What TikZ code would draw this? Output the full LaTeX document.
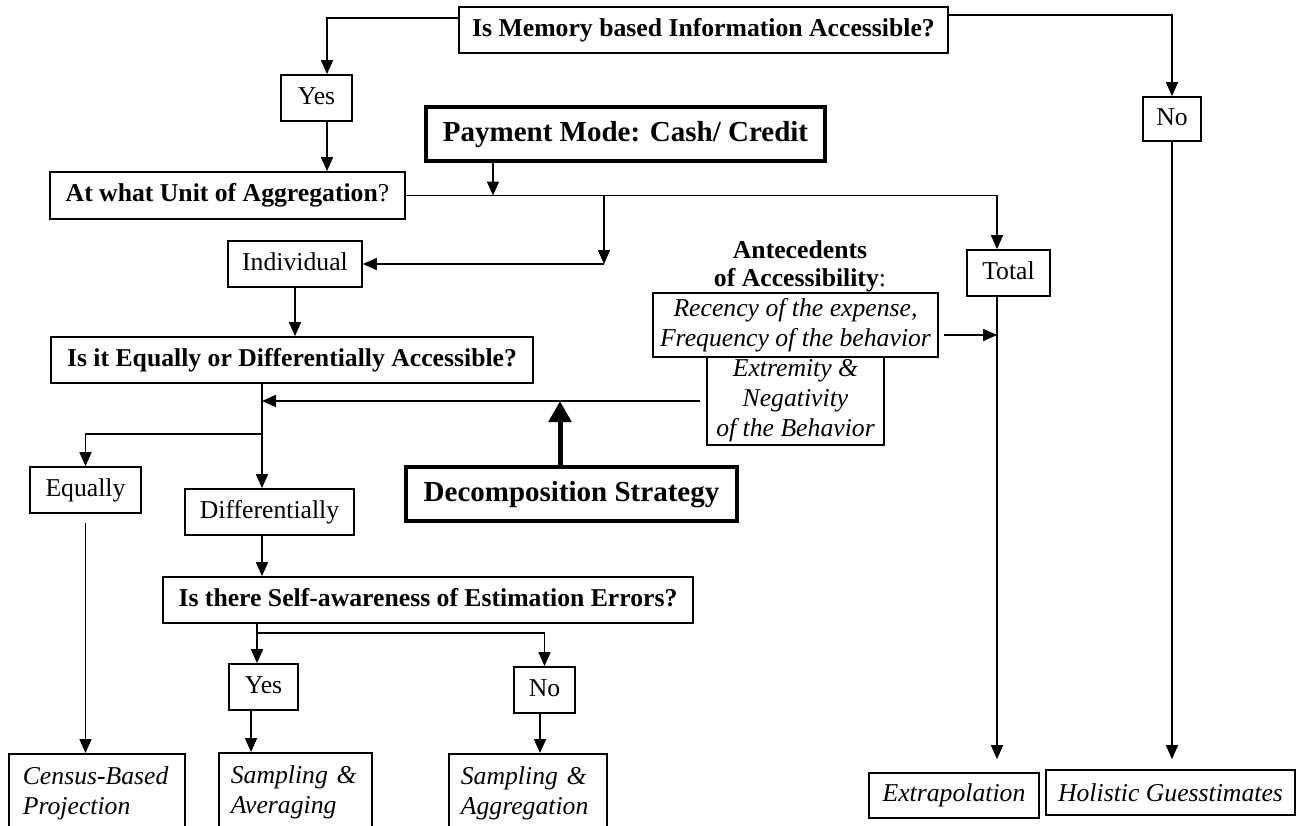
\documentclass[tikz,border=0pt]{standalone}
\usepackage{fontspec}
\setmainfont{Liberation Serif}
\usetikzlibrary{arrows.meta,calc}
\begin{document}
\begin{tikzpicture}[x=1pt,y=-1pt,
  box/.style={draw, line width=1.7pt, inner sep=0pt, text height=17pt, text depth=5pt, font=\fontsize{25.7}{30}\selectfont},
  qbox/.style={box, font=\fontsize{25.7}{30}\selectfont\bfseries},
  tbox/.style={draw, line width=4pt, inner sep=0pt, text height=20pt, text depth=6pt, font=\fontsize{29}{34}\selectfont\bfseries},
  ibox/.style={draw, line width=1.7pt, inner sep=0pt, align=center, font=\fontsize{25.7}{30}\selectfont\itshape},
  lbox/.style={draw, line width=1.7pt, inner xsep=12pt, inner ysep=0pt, align=left, anchor=north west, minimum height=78pt, font=\fontsize{25.7}{30}\selectfont\itshape},
  lbl/.style={inner sep=0pt, align=center, font=\fontsize{25.7}{28}\selectfont\bfseries},
  arr/.style={line width=1.6pt, -{Triangle[length=14pt,width=12pt]}},
  thickarr/.style={line width=5pt, -{Triangle[length=21pt,width=22pt]}}
]
\useasboundingbox (0,0) rectangle (1306,825);
\fill[white] (0,0) rectangle (1306,825);
\clip (0,0) rectangle (1306,825);

% nodes
\node[qbox, minimum width=489, minimum height=46] (top) at (703.5,30) {Is Memory based Information Accessible?};
\node[box, minimum width=71, minimum height=46] (yes1) at (316.5,98) {Yes};
\node[box, minimum width=58, minimum height=44] (no1) at (1172,119) {No};
\node[tbox, minimum width=399, minimum height=54] (pay) at (625.5,134) {Payment Mode: Cash/ Credit};
\node[qbox, minimum width=355, minimum height=47] (unit) at (227.5,195.5) {At what Unit of Aggregation{\mdseries ?}};
\node[box, minimum width=134, minimum height=46] (ind) at (295,264) {Individual};
\node[box, minimum width=83, minimum height=46] (tot) at (1008.5,273) {Total};
\node[lbl] (ante) at (800,266) {Antecedents\\of Accessibility{\mdseries :}};
\node[ibox, minimum width=285, minimum height=64] (rec) at (795.5,325) {Recency of the expense,\\Frequency of the behavior};
\node[ibox, minimum width=177, minimum height=88] (ext) at (795.5,401) {Extremity \&\\Negativity\\of the Behavior};
\node[qbox, minimum width=482, minimum height=46] (eq) at (292,360) {Is it Equally or Differentially Accessible?};
\node[box, minimum width=111, minimum height=46] (equal) at (85.5,490) {Equally};
\node[box, minimum width=169, minimum height=46] (diff) at (269.5,512) {Differentially};
\node[tbox, minimum width=331, minimum height=54] (dec) at (571.5,494) {Decomposition Strategy};
\node[qbox, minimum width=530, minimum height=46] (self) at (428,600) {Is there Self-awareness of Estimation Errors?};
\node[box, minimum width=69, minimum height=46] (yes2) at (263.5,687) {Yes};
\node[box, minimum width=61, minimum height=46] (no2) at (544.5,690) {No};
\node[lbox, inner xsep=14pt, text width=148pt] (cen) at (8,753) {Census-Based\\Projection};
\node[lbox, text width=129pt] (savg) at (218,752) {Sampling \&\\Averaging};
\node[lbox, text width=134pt] (sagg) at (448,753) {Sampling \&\\Aggregation};
\node[ibox, minimum width=170, minimum height=45] (extr) at (954,795.5) {Extrapolation};
\node[ibox, minimum width=249, minimum height=45] (hol) at (1170.5,792.5) {Holistic Guesstimates};

% helper coordinates
\coordinate (y1b) at ([xshift=10.5pt]yes1.south);
\coordinate (pb) at ([xshift=-132.5pt]pay.south);
\coordinate (j1) at (604,195.5);
\coordinate (tl) at ([xshift=-11.5pt]tot.south);
\coordinate (e1) at ([xshift=-30pt]eq.south);
\coordinate (e2) at (262,434);
\coordinate (r1) at ([shift={(5pt,-10pt)}]rec.east);
\coordinate (dt) at ([xshift=-11.5pt]dec.north);
\coordinate (s1) at ([xshift=-171pt]self.south);
\coordinate (s2) at (257,633);
\coordinate (y2b) at ([xshift=-12.5pt]yes2.south);
\coordinate (n2b) at ([xshift=-4.5pt]no2.south);

% connectors
\draw[arr] ([yshift=-12pt]top.north west) -| ([xshift=10.5pt]yes1.north);
\draw[arr] ([yshift=-9pt]top.north east) -| (no1.north);
\draw[arr] (y1b) -- (y1b |- unit.north);
\draw[arr] (pb) -- (pb |- unit.east);
\draw[arr] (unit.east) -| ([xshift=-11.5pt]tot.north);
\draw[arr] (j1) -- (j1 |- ind.east);
\draw[arr] (j1 |- ind.east) -- (ind.east);
\draw[arr] (ind.south) -- (ind.south |- eq.north);
\draw[arr] (r1) -- (tl |- r1);
\draw[arr, shorten >=13pt] (tl) -- (tl |- extr.north);
\draw[arr, shorten >=10pt] (no1.south) -- (no1.south |- hol.north);
\draw[arr] (e1) -- (e1 |- diff.north);
\draw[arr] ([xshift=-6pt]ext.west) -- (e1 |- ext.west);
\draw[thickarr] (dt) -- (dt |- ext.west);
\draw[arr] (e2) -| (equal.north);
\draw[arr] (diff.south -| e1) -- (e1 |- self.north);
\draw[arr] (s1) -- (s1 |- yes2.north);
\draw[arr] (s2) -| (no2.north);
\draw[arr] (y2b) -- (y2b |- savg.north);
\draw[arr] (n2b) -- (n2b |- sagg.north);
\draw[arr, shorten <=9pt] (equal.south) -- (equal.south |- cen.north);
\end{tikzpicture}
\end{document}
